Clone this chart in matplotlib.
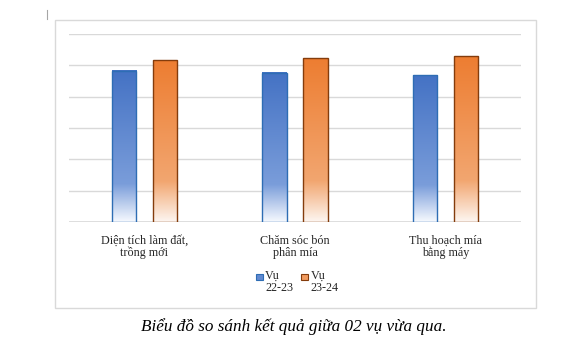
import numpy as np
import matplotlib
matplotlib.use("Agg")
import matplotlib.pyplot as plt
from matplotlib.patches import Rectangle
from matplotlib.lines import Line2D

categories = ["Diện tích làm đất,\ntrồng mới", "Chăm sóc bón\nphân mía", "Thu hoạch mía\nbằng máy"]
series_names = ["Vụ\n22-23", "Vụ\n23-24"]
vu_22_23 = [4.82, 4.76, 4.68]
vu_23_24 = [5.16, 5.22, 5.29]
caption = "Biểu đồ so sánh kết quả giữa 02 vụ vừa qua."

W, H = 587, 363
fig = plt.figure(figsize=(W / 100, H / 100), dpi=100)
fig.patch.set_facecolor("white")

# outer chart frame
fig.add_artist(Rectangle((55 / W, 1 - 308 / H), (536 - 55) / W, (308 - 20) / H,
                         transform=fig.transFigure, fill=False, edgecolor="#D9D9D9", lw=1.0))
# small cursor mark
fig.add_artist(Line2D([47 / W, 47 / W], [1 - 19 / H, 1 - 10 / H], transform=fig.transFigure,
                      color="#A6A6A6", lw=0.8))

ax = fig.add_axes([69 / W, 1 - 222 / H, (521 - 69) / W, (222 - 34) / H])
ax.set_xlim(-0.5, 2.5)
ax.set_ylim(0, 6)
for s in ax.spines.values():
    s.set_visible(False)
ax.set_yticks(np.arange(0, 7, 1))
ax.yaxis.grid(True, color="#D9D9D9", lw=1.0)
ax.set_axisbelow(True)
ax.tick_params(axis="y", length=0, labelleft=False)
ax.axhline(0, color="#D9D9D9", lw=1.2, zorder=1)

def grad_img(top, mid, bottom):
    top = np.array(top) / 255.0
    mid = np.array(mid) / 255.0
    bottom = np.array(bottom) / 255.0
    n = 200
    t = np.linspace(0, 1, n)  # 0 = bottom, 1 = top
    img = np.zeros((n, 1, 3))
    for i, tt in enumerate(t):
        d = 1 - tt  # distance from top
        if d <= 0.75:
            f = d / 0.75
            c = top * (1 - f) + mid * f
        else:
            f = (d - 0.75) / 0.25
            c = mid * (1 - f) + bottom * f
        img[i, 0] = c
    return img

blue_img = grad_img((68, 114, 196), (122, 157, 218), (246, 249, 254))
orange_img = grad_img((237, 125, 49), (242, 166, 112), (253, 246, 241))

x = np.arange(len(categories))
bw = 0.162
off = 0.136
for vals, dx, img, edge in [(vu_22_23, -off, blue_img, "#2E6DB4"),
                            (vu_23_24, off, orange_img, "#843C0C")]:
    bars = ax.bar(x + dx, vals, width=bw, facecolor="none", edgecolor=edge, lw=1.0, zorder=3)
    for b in bars:
        x0, y0 = b.get_x(), b.get_y()
        ax.imshow(img, extent=[x0, x0 + b.get_width(), y0, y0 + b.get_height()],
                  origin="lower", aspect="auto", zorder=2, interpolation="bilinear")
ax.set_xlim(-0.5, 2.5)
ax.set_ylim(0, 6)

ax.set_xticks(x)
ax.set_xticklabels(categories, fontfamily="Liberation Serif", fontsize=8.7, color="#262626",
                   linespacing=1.02)
ax.tick_params(axis="x", length=0, pad=9)

# legend
leg_items = [((256 / W, 1 - 280 / H), blue_img[120, 0], "#2E6DB4", series_names[0], 265 / W),
             ((301 / W, 1 - 280 / H), orange_img[90, 0], "#843C0C", series_names[1], 310.5 / W)]
for (lx, ly), fc, ec, lab, tx in leg_items:
    fig.add_artist(Rectangle((lx, ly), 6.5 / W, 6.5 / H, transform=fig.transFigure,
                             facecolor=fc, edgecolor=ec, lw=0.8))
    fig.text(tx, 1 - 270 / H, lab, ha="left", va="top", fontfamily="Liberation Serif",
             fontsize=8.7, color="#262626", linespacing=1.05)

fig.text(294 / W, 1 - 327 / H, caption, ha="center", va="center", fontfamily="Liberation Serif",
         fontstyle="italic", fontsize=12.3, color="black")

fig.savefig("out.png", dpi=100, facecolor="white")
